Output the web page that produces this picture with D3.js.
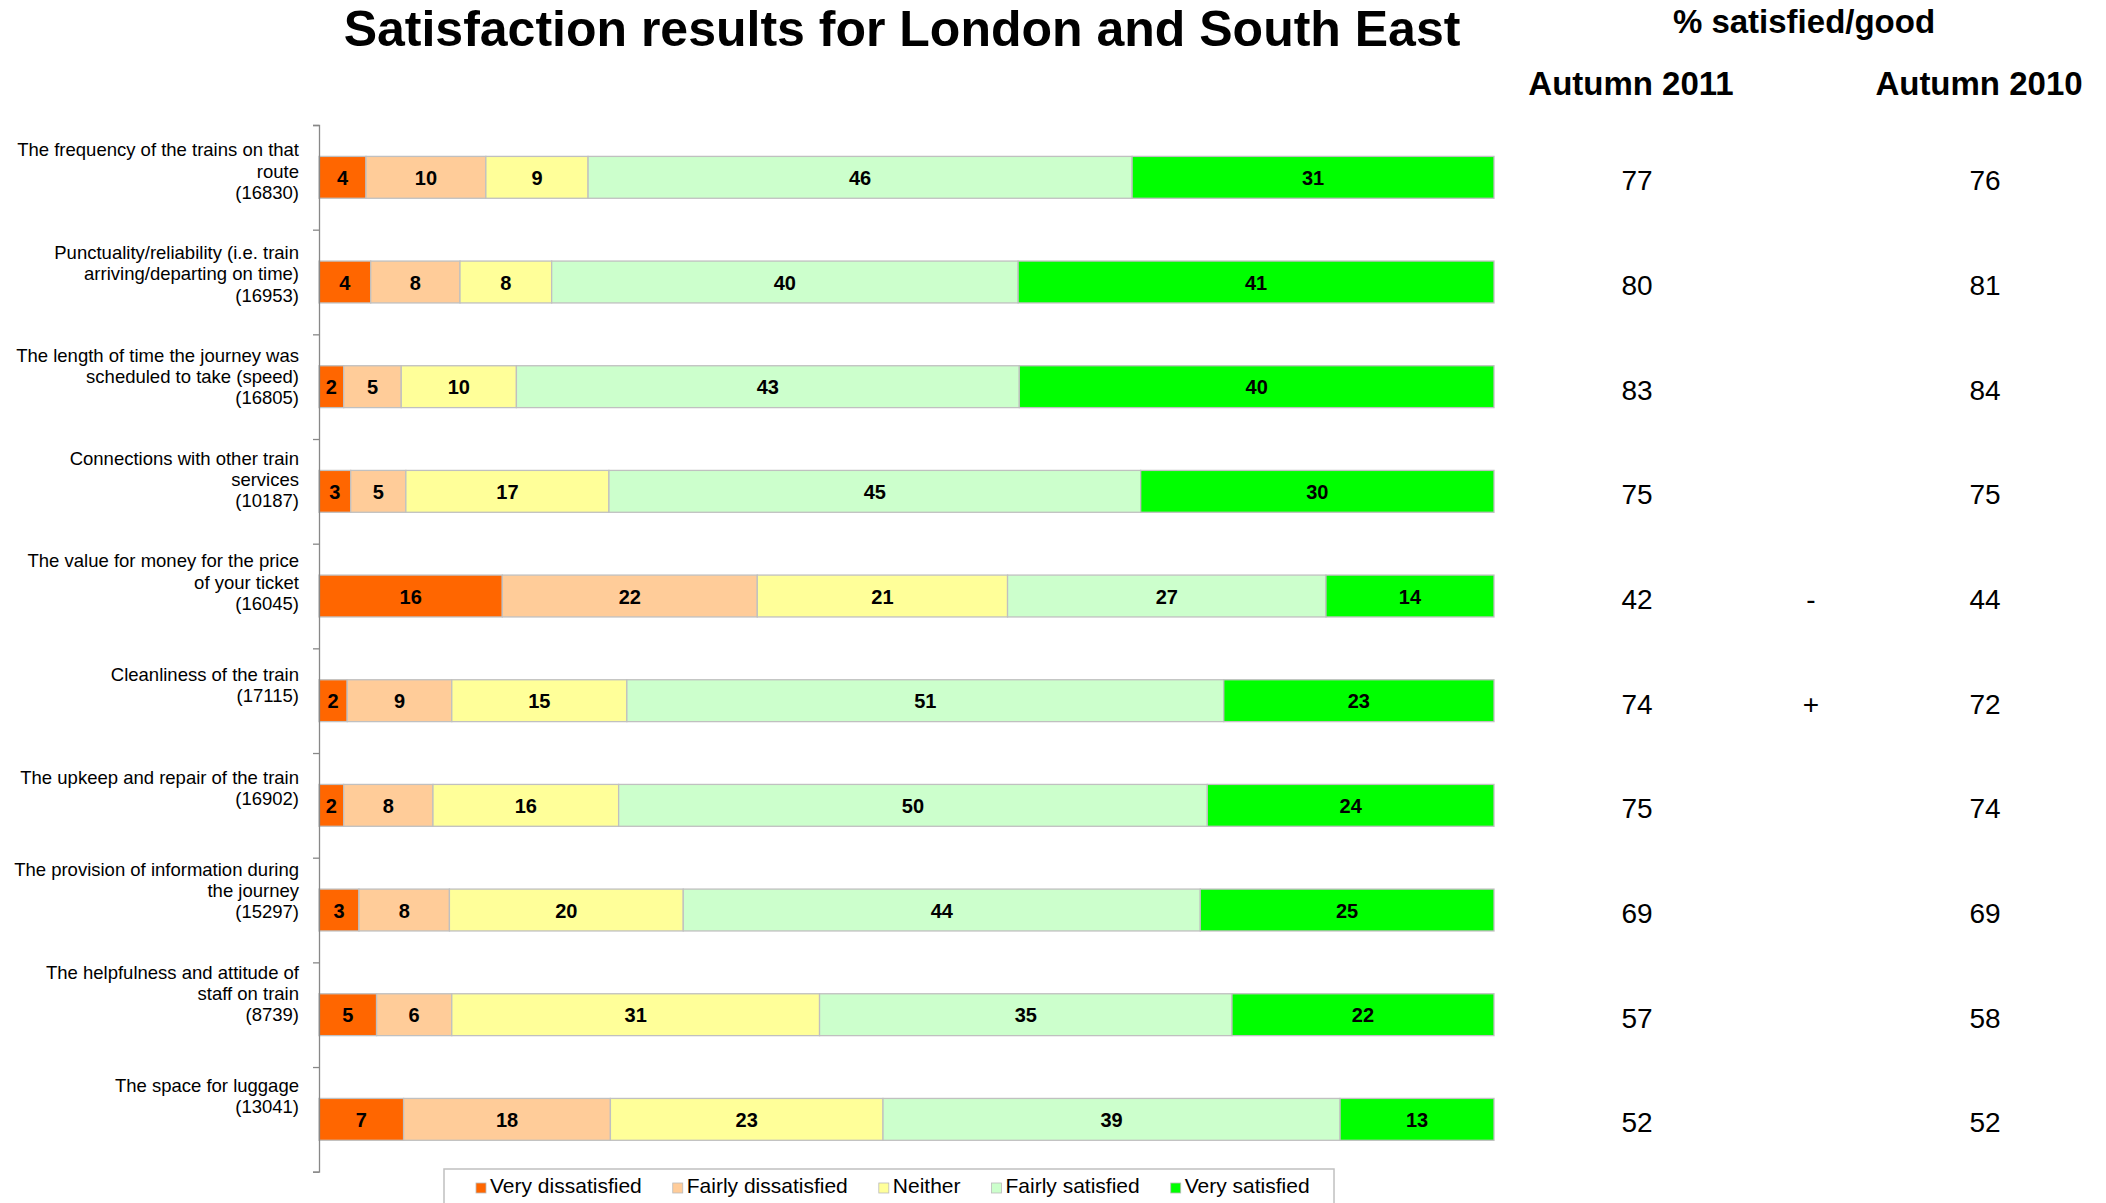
<!DOCTYPE html>
<meta charset="utf-8">
<style>
  body { margin: 0; background: #fff; }
  text { font-family: "Liberation Sans", Arial, sans-serif; }
</style>
<svg width="2106" height="1203"></svg>

<script src="https://d3js.org/d3.v7.min.js"></script>
<script>
// categories (label lines split by "|") and their sample sizes
var categories = [
  "The frequency of the trains on that|route",
  "Punctuality/reliability (i.e. train|arriving/departing on time)",
  "The length of time the journey was|scheduled to take (speed)",
  "Connections with other train|services",
  "The value for money for the price|of your ticket",
  "Cleanliness of the train",
  "The upkeep and repair of the train",
  "The provision of information during|the journey",
  "The helpfulness and attitude of|staff on train",
  "The space for luggage"
]
var bases = [16830, 16953, 16805, 10187, 16045, 17115, 16902, 15297, 8739, 13041]

var seriesNames = ["Very dissatisfied", "Fairly dissatisfied", "Neither", "Fairly satisfied", "Very satisfied"]
var seriesColors = ["#ff6600", "#ffcc99", "#ffff99", "#ccffcc", "#00ff00"]

// percentages (labels show them rounded)
var veryDissatisfied   = [4.0, 4.4, 2.1, 2.7, 15.6, 2.4, 2.1, 3.4, 4.9, 7.2]
var fairlyDissatisfied = [10.2, 7.6, 4.9, 4.7, 21.7, 8.9, 7.6, 7.7, 6.4, 17.6]
var neither            = [8.7, 7.8, 9.8, 17.3, 21.3, 14.9, 15.8, 19.9, 31.3, 23.2]
var fairlySatisfied    = [46.3, 39.7, 42.8, 45.3, 27.1, 50.8, 50.1, 44.0, 35.1, 38.9]
var verySatisfied      = [30.8, 40.5, 40.4, 30.1, 14.3, 23.0, 24.4, 25.0, 22.3, 13.1]

var autumn2011 = [77, 80, 83, 75, 42, 74, 75, 69, 57, 52]
var autumn2010 = [76, 81, 84, 75, 44, 72, 74, 69, 58, 52]
var change     = ["", "", "", "", "-", "+", "", "", "", ""]

var svg = d3.select('svg')

// build table for stacking
var table = categories.map(function (c, i) {
  return {
    cat: c,
    "Very dissatisfied": veryDissatisfied[i],
    "Fairly dissatisfied": fairlyDissatisfied[i],
    "Neither": neither[i],
    "Fairly satisfied": fairlySatisfied[i],
    "Very satisfied": verySatisfied[i]
  }
})

var stack = d3.stack().keys(seriesNames).offset(d3.stackOffsetExpand)
var layers = stack(table)

var plotTop = 125, plotBottom = 1171.7
var x = d3.scaleLinear().domain([0, 1]).range([319, 1494])
var y = d3.scaleBand().domain(categories).range([plotTop, plotBottom]).paddingInner(0.6).paddingOuter(0.3)
// category labels sit slightly tighter than the bars, like in the original
var yLabel = d3.scalePoint().domain(categories).range([177.5, 1102.6])
var color = d3.scaleOrdinal().domain(seriesNames).range(seriesColors)
var fmt = d3.format('.0f')

// title
svg.append('text')
  .attr('x', 902).attr('y', 46)
  .attr('text-anchor', 'middle')
  .attr('font-size', 50).attr('font-weight', 'bold')
  .text('Satisfaction results for London and South East')

// right side headers
svg.append('text')
  .attr('x', 1804).attr('y', 33)
  .attr('text-anchor', 'middle')
  .attr('font-size', 33).attr('font-weight', 'bold')
  .text('% satisfied/good')
svg.append('text')
  .attr('x', 1631).attr('y', 95)
  .attr('text-anchor', 'middle')
  .attr('font-size', 33).attr('font-weight', 'bold')
  .text('Autumn 2011')
svg.append('text')
  .attr('x', 1979).attr('y', 95)
  .attr('text-anchor', 'middle')
  .attr('font-size', 33).attr('font-weight', 'bold')
  .text('Autumn 2010')

// bars
var layerGroups = svg.append('g').selectAll('g')
  .data(layers)
  .enter().append('g')
  .attr('fill', function (d) { return color(d.key) })

layerGroups.selectAll('rect')
  .data(function (d) { return d })
  .enter().append('rect')
  .attr('x', function (d) { return x(d[0]) })
  .attr('width', function (d) { return x(d[1]) - x(d[0]) })
  .attr('y', function (d) { return y(d.data.cat) })
  .attr('height', y.bandwidth())
  .attr('stroke', '#c0c0c0')
  .attr('stroke-width', 1.3)

// segment value labels
layerGroups.selectAll('text')
  .data(function (d) { return d.map(function (p) { return { p: p, key: d.key } }) })
  .enter().append('text')
  .attr('x', function (d) { return (x(d.p[0]) + x(d.p[1])) / 2 })
  .attr('y', function (d) { return y(d.p.data.cat) + y.bandwidth() / 2 + 7.5 })
  .attr('text-anchor', 'middle')
  .attr('font-size', 20).attr('font-weight', 'bold')
  .attr('fill', '#000')
  .text(function (d) { return fmt(d.p.data[d.key]) })

// left axis with ticks on category boundaries
var yIdx = d3.scaleLinear().domain([0, categories.length]).range([plotTop, plotBottom])
var axis = svg.append('g')
  .attr('transform', 'translate(319,0)')
  .call(d3.axisLeft(yIdx).ticks(categories.length).tickSize(6).tickSizeOuter(6).tickFormat(''))
axis.selectAll('path, line').attr('stroke', '#888').attr('stroke-width', 1.3)

// category labels
var lineH = 21.3
categories.forEach(function (c, i) {
  var lines = c.split('|').concat(['(' + bases[i] + ')'])
  var first = yLabel(c) - (lines.length - 1) * lineH / 2
  var t = svg.append('text')
    .attr('text-anchor', 'end')
    .attr('font-size', 18.5)
    .attr('fill', '#000')
  lines.forEach(function (l, j) {
    t.append('tspan').attr('x', 299).attr('y', first + j * lineH).text(l)
  })
})

// right side values
categories.forEach(function (c, i) {
  var cy = y(c) + y.bandwidth() / 2 + 13
  svg.append('text').attr('x', 1637).attr('y', cy)
    .attr('text-anchor', 'middle').attr('font-size', 28).text(autumn2011[i])
  svg.append('text').attr('x', 1985).attr('y', cy)
    .attr('text-anchor', 'middle').attr('font-size', 28).text(autumn2010[i])
  if (change[i]) {
    svg.append('text').attr('x', 1811).attr('y', cy)
      .attr('text-anchor', 'middle').attr('font-size', 28).text(change[i])
  }
})

// legend
var legendBox = { x: 444, y: 1169, w: 890, h: 50 }
svg.append('rect')
  .attr('x', legendBox.x).attr('y', legendBox.y)
  .attr('width', legendBox.w).attr('height', legendBox.h)
  .attr('fill', '#fff').attr('stroke', '#c0c0c0').attr('stroke-width', 1.5)

var legend = svg.append('g').attr('transform', 'translate(476,0)')
var lx = 0
seriesNames.forEach(function (name) {
  var item = legend.append('g').attr('transform', 'translate(' + lx + ',0)')
  item.append('rect')
    .attr('x', 0).attr('y', 1183).attr('width', 10).attr('height', 10)
    .attr('fill', color(name)).attr('stroke', '#bbb').attr('stroke-width', 0.8)
  var t = item.append('text')
    .attr('x', 14).attr('y', 1193)
    .attr('font-size', 21)
    .text(name)
  lx += 14 + t.node().getComputedTextLength() + 31
})
</script>
